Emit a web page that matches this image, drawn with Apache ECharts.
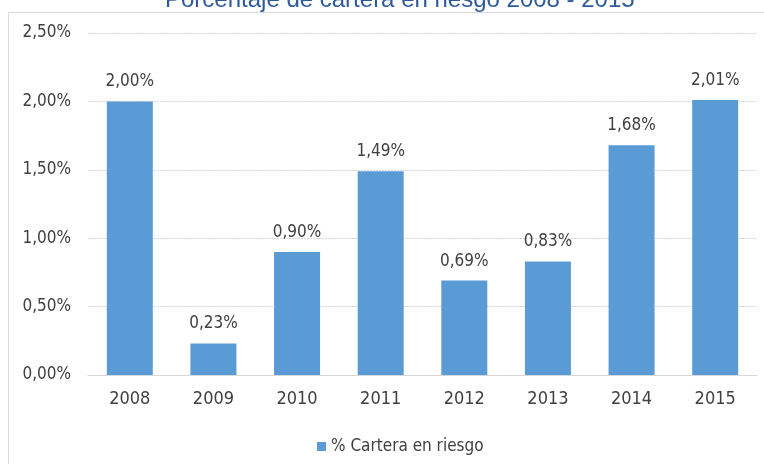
<!DOCTYPE html>
<html>
<head>
<meta charset="utf-8">
<script src="https://cdn.jsdelivr.net/npm/echarts@6/dist/echarts.min.js"></script>
<style>html,body{margin:0;padding:0;background:#fff;}#c{width:764px;height:464px;}</style>
</head>
<body>
<div id="c"></div>
<script>
const categories = ['2008','2009','2010','2011','2012','2013','2014','2015'];
const values = [2.00, 0.23, 0.90, 1.49, 0.69, 0.83, 1.68, 2.01];
const seriesName = '% Cartera en riesgo';
const titleText = 'Porcentaje de cartera en riesgo 2008 - 2015';

const fmt = v => v.toFixed(2).replace('.', ',') + '%';
const FONT = "'DejaVu Sans Condensed', 'Liberation Sans', sans-serif";

const chart = echarts.init(document.getElementById('c'));
chart.setOption({
  animation: false,
  backgroundColor: '#ffffff',
  graphic: [{
    type: 'rect', shape: {x: 8.5, y: 12.5, width: 800, height: 500},
    style: {fill: 'none', stroke: '#d9d9d9', lineWidth: 1}, z: -1
  }],
  title: {
    text: titleText, left: 160, top: -17,
    textStyle: {color: '#2e5a9c', fontSize: 24, fontWeight: 'normal', fontFamily: "'Liberation Sans', Arial, sans-serif"}
  },
  legend: {
    data: [seriesName], left: 312, top: 433, icon: 'rect', itemWidth: 9, itemHeight: 9, itemGap: 5,
    textStyle: {color: '#404040', fontSize: 17, fontFamily: FONT}
  },
  grid: {left: 88, right: 7, top: 33, bottom: 89},
  xAxis: {
    type: 'category', data: categories,
    axisLine: {show: true, lineStyle: {color: '#d6d6d6'}},
    axisTick: {show: false},
    axisLabel: {color: '#404040', fontSize: 18, fontFamily: FONT, margin: 15}
  },
  yAxis: {
    type: 'value', min: 0, max: 2.5, interval: 0.5,
    axisLine: {show: false}, axisTick: {show: false},
    splitLine: {lineStyle: {color: '#d6d6d6', type: [2, 1]}},
    axisLabel: {color: '#404040', fontSize: 17, fontFamily: FONT, margin: 17, formatter: v => fmt(v)}
  },
  series: [{
    name: seriesName, type: 'bar', data: values, barWidth: '55%',
    itemStyle: {color: '#5b9bd5'},
    label: {show: true, position: 'top', distance: 11, color: '#404040', fontSize: 17, fontFamily: FONT, formatter: p => fmt(p.value)}
  }]
});
</script>
</body>
</html>
